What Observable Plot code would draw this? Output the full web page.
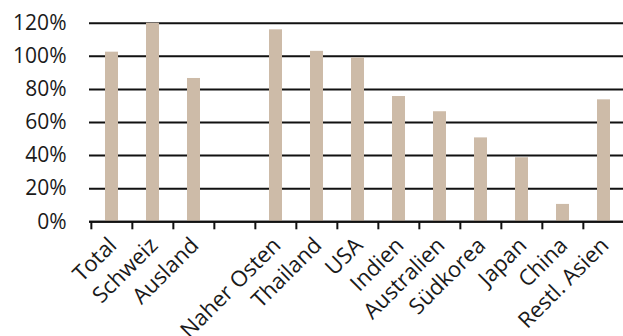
<!DOCTYPE html>
<html>
<head>
<meta charset="utf-8">
<script src="https://cdn.jsdelivr.net/npm/d3@7"></script>
<script src="https://cdn.jsdelivr.net/npm/@observablehq/plot@0.6"></script>
<style>
  html, body { margin: 0; padding: 0; background: #fff; }
  svg { display: block; }
</style>
</head>
<body>
<div id="chart"></div>
<script>
const categories = ["Total", "Schweiz", "Ausland", " ", "Naher Osten", "Thailand", "USA", "Indien", "Australien", "Südkorea", "Japan", "China", "Restl. Asien"];
const values = [102.5, 120, 86.6, null, 116, 103, 99, 75.7, 66.5, 50.7, 38.7, 10.5, 73.7];
const yTicks = [0, 20, 40, 60, 80, 100, 120];

const data = categories.map((c, i) => ({ category: c, value: values[i] })).filter(d => d.value != null);

const marginLeft = 89, marginRight = -3, marginTop = 22.7, marginBottom = 114.7;
const step = (623 - marginLeft - marginRight) / categories.length;

const chart = Plot.plot({
  width: 623,
  height: 336,
  marginLeft, marginRight, marginTop, marginBottom,
  style: { fontFamily: "'Open Sans', sans-serif", fontSize: "21px", color: "#1a1a1a", background: "#fff", overflow: "hidden" },
  x: { domain: categories, paddingInner: 0.69, paddingOuter: 0.345, align: 0.5, label: null },
  y: { domain: [0, 120], label: null },
  marks: [
    Plot.ruleY(yTicks, { stroke: "#111", strokeWidth: 2 }),
    Plot.barY(data, { x: "category", y: "value", fill: "#cdbba8" }),
    Plot.ruleY([0], { stroke: "#111", strokeWidth: 2 }),
    Plot.axisY(yTicks, { tickSize: 0, tickPadding: 23, tickFormat: d => d + "%", fontSize: 21, fill: "#1a1a1a", label: null }),
    Plot.axisX(categories, { tickSize: 8, tickFormat: () => "", dx: -step / 2, stroke: "#111", strokeWidth: 2, label: null }),
    Plot.axisX(categories, { tickSize: 0, tickRotate: -45, tickPadding: 10, dx: 1, dy: 10, fontSize: 22, fill: "#1a1a1a", tickFormat: d => d.trim(), label: null })
  ]
});
document.getElementById("chart").appendChild(chart);
</script>
</body>
</html>
